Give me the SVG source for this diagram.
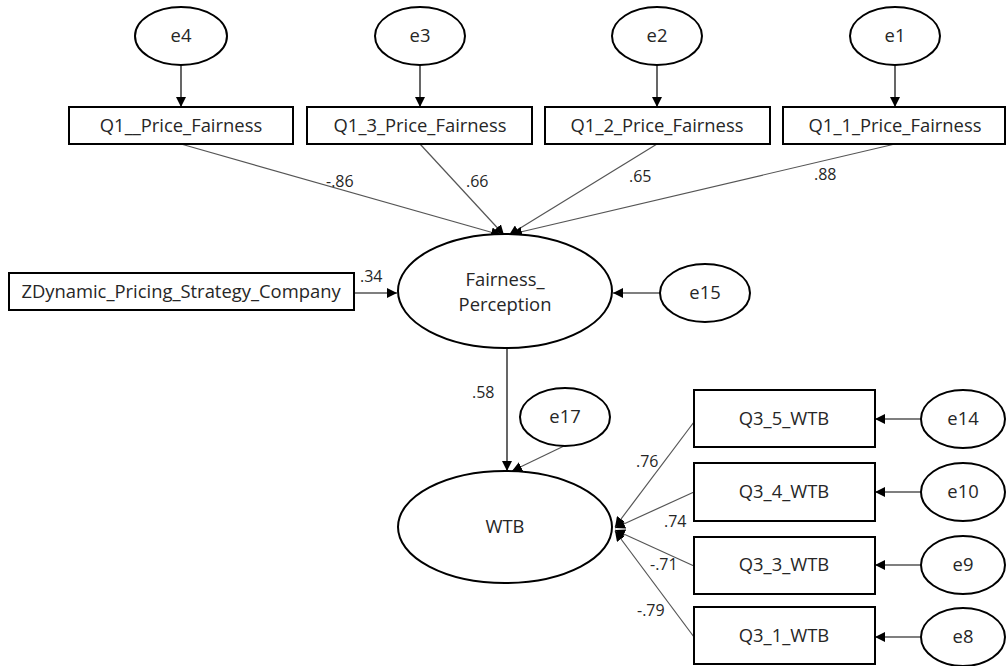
<svg xmlns="http://www.w3.org/2000/svg" width="1006" height="666" viewBox="0 0 1006 666">
<style>
.bg{fill:#fff}
.n{fill:#fff;stroke:#000;stroke-width:2}
.t{font-family:"Open Sans","Liberation Sans",sans-serif;font-size:18.4px;fill:#262626;text-anchor:middle}
.l{font-family:"Open Sans","Liberation Sans",sans-serif;font-size:16px;fill:#262626}
.c{stroke:#000;stroke-width:1.2;fill:none;marker-end:url(#ah)}
.g{stroke:#555;stroke-width:1.2;fill:none;marker-end:url(#ah)}
</style>
<defs>
<marker id="ah" viewBox="0 0 10 10" refX="10" refY="5" markerWidth="10" markerHeight="10" markerUnits="userSpaceOnUse" orient="auto">
<path d="M0,0 L10,5 L0,10 z" fill="#000"/>
</marker>
</defs>
<rect class="bg" width="1006" height="666"/>
<g id="connectors">
<line class="c" x1="181" y1="65" x2="181" y2="107"/>
<line class="c" x1="420" y1="65" x2="420" y2="107"/>
<line class="c" x1="657" y1="65" x2="657" y2="107"/>
<line class="c" x1="895" y1="65" x2="895" y2="107"/>
<line class="g" x1="181" y1="144" x2="501" y2="235"/>
<line class="g" x1="420" y1="144" x2="504" y2="235"/>
<line class="g" x1="657" y1="144" x2="509" y2="235"/>
<line class="g" x1="895" y1="144" x2="512" y2="234"/>
<line class="c" x1="354" y1="293" x2="397" y2="293"/>
<line class="c" x1="660" y1="293" x2="613" y2="293"/>
<line class="c" x1="507" y1="348" x2="507" y2="471"/>
<line class="g" x1="564" y1="446" x2="512" y2="471"/>
<line class="g" x1="694" y1="422" x2="615" y2="527"/>
<line class="g" x1="694" y1="492" x2="615" y2="528"/>
<line class="g" x1="694" y1="566" x2="615" y2="530"/>
<line class="g" x1="694" y1="637" x2="615" y2="531"/>
<line class="c" x1="921" y1="419" x2="875" y2="419"/>
<line class="c" x1="921" y1="492" x2="875" y2="492"/>
<line class="c" x1="921" y1="565" x2="875" y2="565"/>
<line class="c" x1="921" y1="637" x2="875" y2="637"/>
<text class="l" x="326" y="187">-.86</text>
<text class="l" x="466" y="187">.66</text>
<text class="l" x="629" y="182">.65</text>
<text class="l" x="814" y="180">.88</text>
<text class="l" x="360" y="282">.34</text>
<text class="l" x="472" y="398">.58</text>
<text class="l" x="636" y="467">.76</text>
<text class="l" x="664" y="527">.74</text>
<text class="l" x="650" y="570">-.71</text>
<text class="l" x="637" y="616">-.79</text>
</g>
<g id="e4"><ellipse class="n" cx="181" cy="36" rx="46" ry="29"/><text class="t" x="181" y="42">e4</text></g>
<g id="e3"><ellipse class="n" cx="420" cy="36" rx="45" ry="29"/><text class="t" x="420" y="42">e3</text></g>
<g id="e2"><ellipse class="n" cx="657" cy="36" rx="45" ry="29"/><text class="t" x="657" y="42">e2</text></g>
<g id="e1"><ellipse class="n" cx="895" cy="36" rx="45" ry="29"/><text class="t" x="895" y="42">e1</text></g>
<g id="q1"><rect class="n" x="69" y="107" width="224" height="37"/><text class="t" x="181" y="132">Q1__Price_Fairness</text></g>
<g id="q13"><rect class="n" x="307" y="107" width="225" height="37"/><text class="t" x="420" y="132">Q1_3_Price_Fairness</text></g>
<g id="q12"><rect class="n" x="545" y="107" width="225" height="37"/><text class="t" x="657" y="132">Q1_2_Price_Fairness</text></g>
<g id="q11"><rect class="n" x="783" y="107" width="222" height="37"/><text class="t" x="895" y="132">Q1_1_Price_Fairness</text></g>
<g id="zdyn"><rect class="n" x="9" y="273" width="345" height="37"/><text class="t" x="181" y="298">ZDynamic_Pricing_Strategy_Company</text></g>
<g id="fairness"><ellipse class="n" cx="505" cy="291" rx="107" ry="57"/><text class="t" x="505" y="286">Fairness_</text><text class="t" x="505" y="311">Perception</text></g>
<g id="e15"><ellipse class="n" cx="705" cy="293" rx="45" ry="29"/><text class="t" x="705" y="299">e15</text></g>
<g id="e17"><ellipse class="n" cx="565" cy="417" rx="45" ry="29"/><text class="t" x="565" y="423">e17</text></g>
<g id="wtb"><ellipse class="n" cx="505" cy="527" rx="107" ry="56"/><text class="t" x="505" y="533">WTB</text></g>
<g id="q35"><rect class="n" x="694" y="390" width="181" height="57"/><text class="t" x="784" y="425">Q3_5_WTB</text></g>
<g id="q34"><rect class="n" x="694" y="463" width="181" height="58"/><text class="t" x="784" y="498">Q3_4_WTB</text></g>
<g id="q33"><rect class="n" x="694" y="537" width="181" height="57"/><text class="t" x="784" y="571">Q3_3_WTB</text></g>
<g id="q31"><rect class="n" x="694" y="607" width="181" height="57"/><text class="t" x="784" y="642">Q3_1_WTB</text></g>
<g id="e14"><ellipse class="n" cx="963" cy="419" rx="42" ry="29"/><text class="t" x="963" y="425">e14</text></g>
<g id="e10"><ellipse class="n" cx="963" cy="492" rx="42" ry="29"/><text class="t" x="963" y="498">e10</text></g>
<g id="e9"><ellipse class="n" cx="963" cy="565" rx="42" ry="29"/><text class="t" x="963" y="571">e9</text></g>
<g id="e8"><ellipse class="n" cx="963" cy="637" rx="42" ry="29"/><text class="t" x="963" y="643">e8</text></g>
</svg>
